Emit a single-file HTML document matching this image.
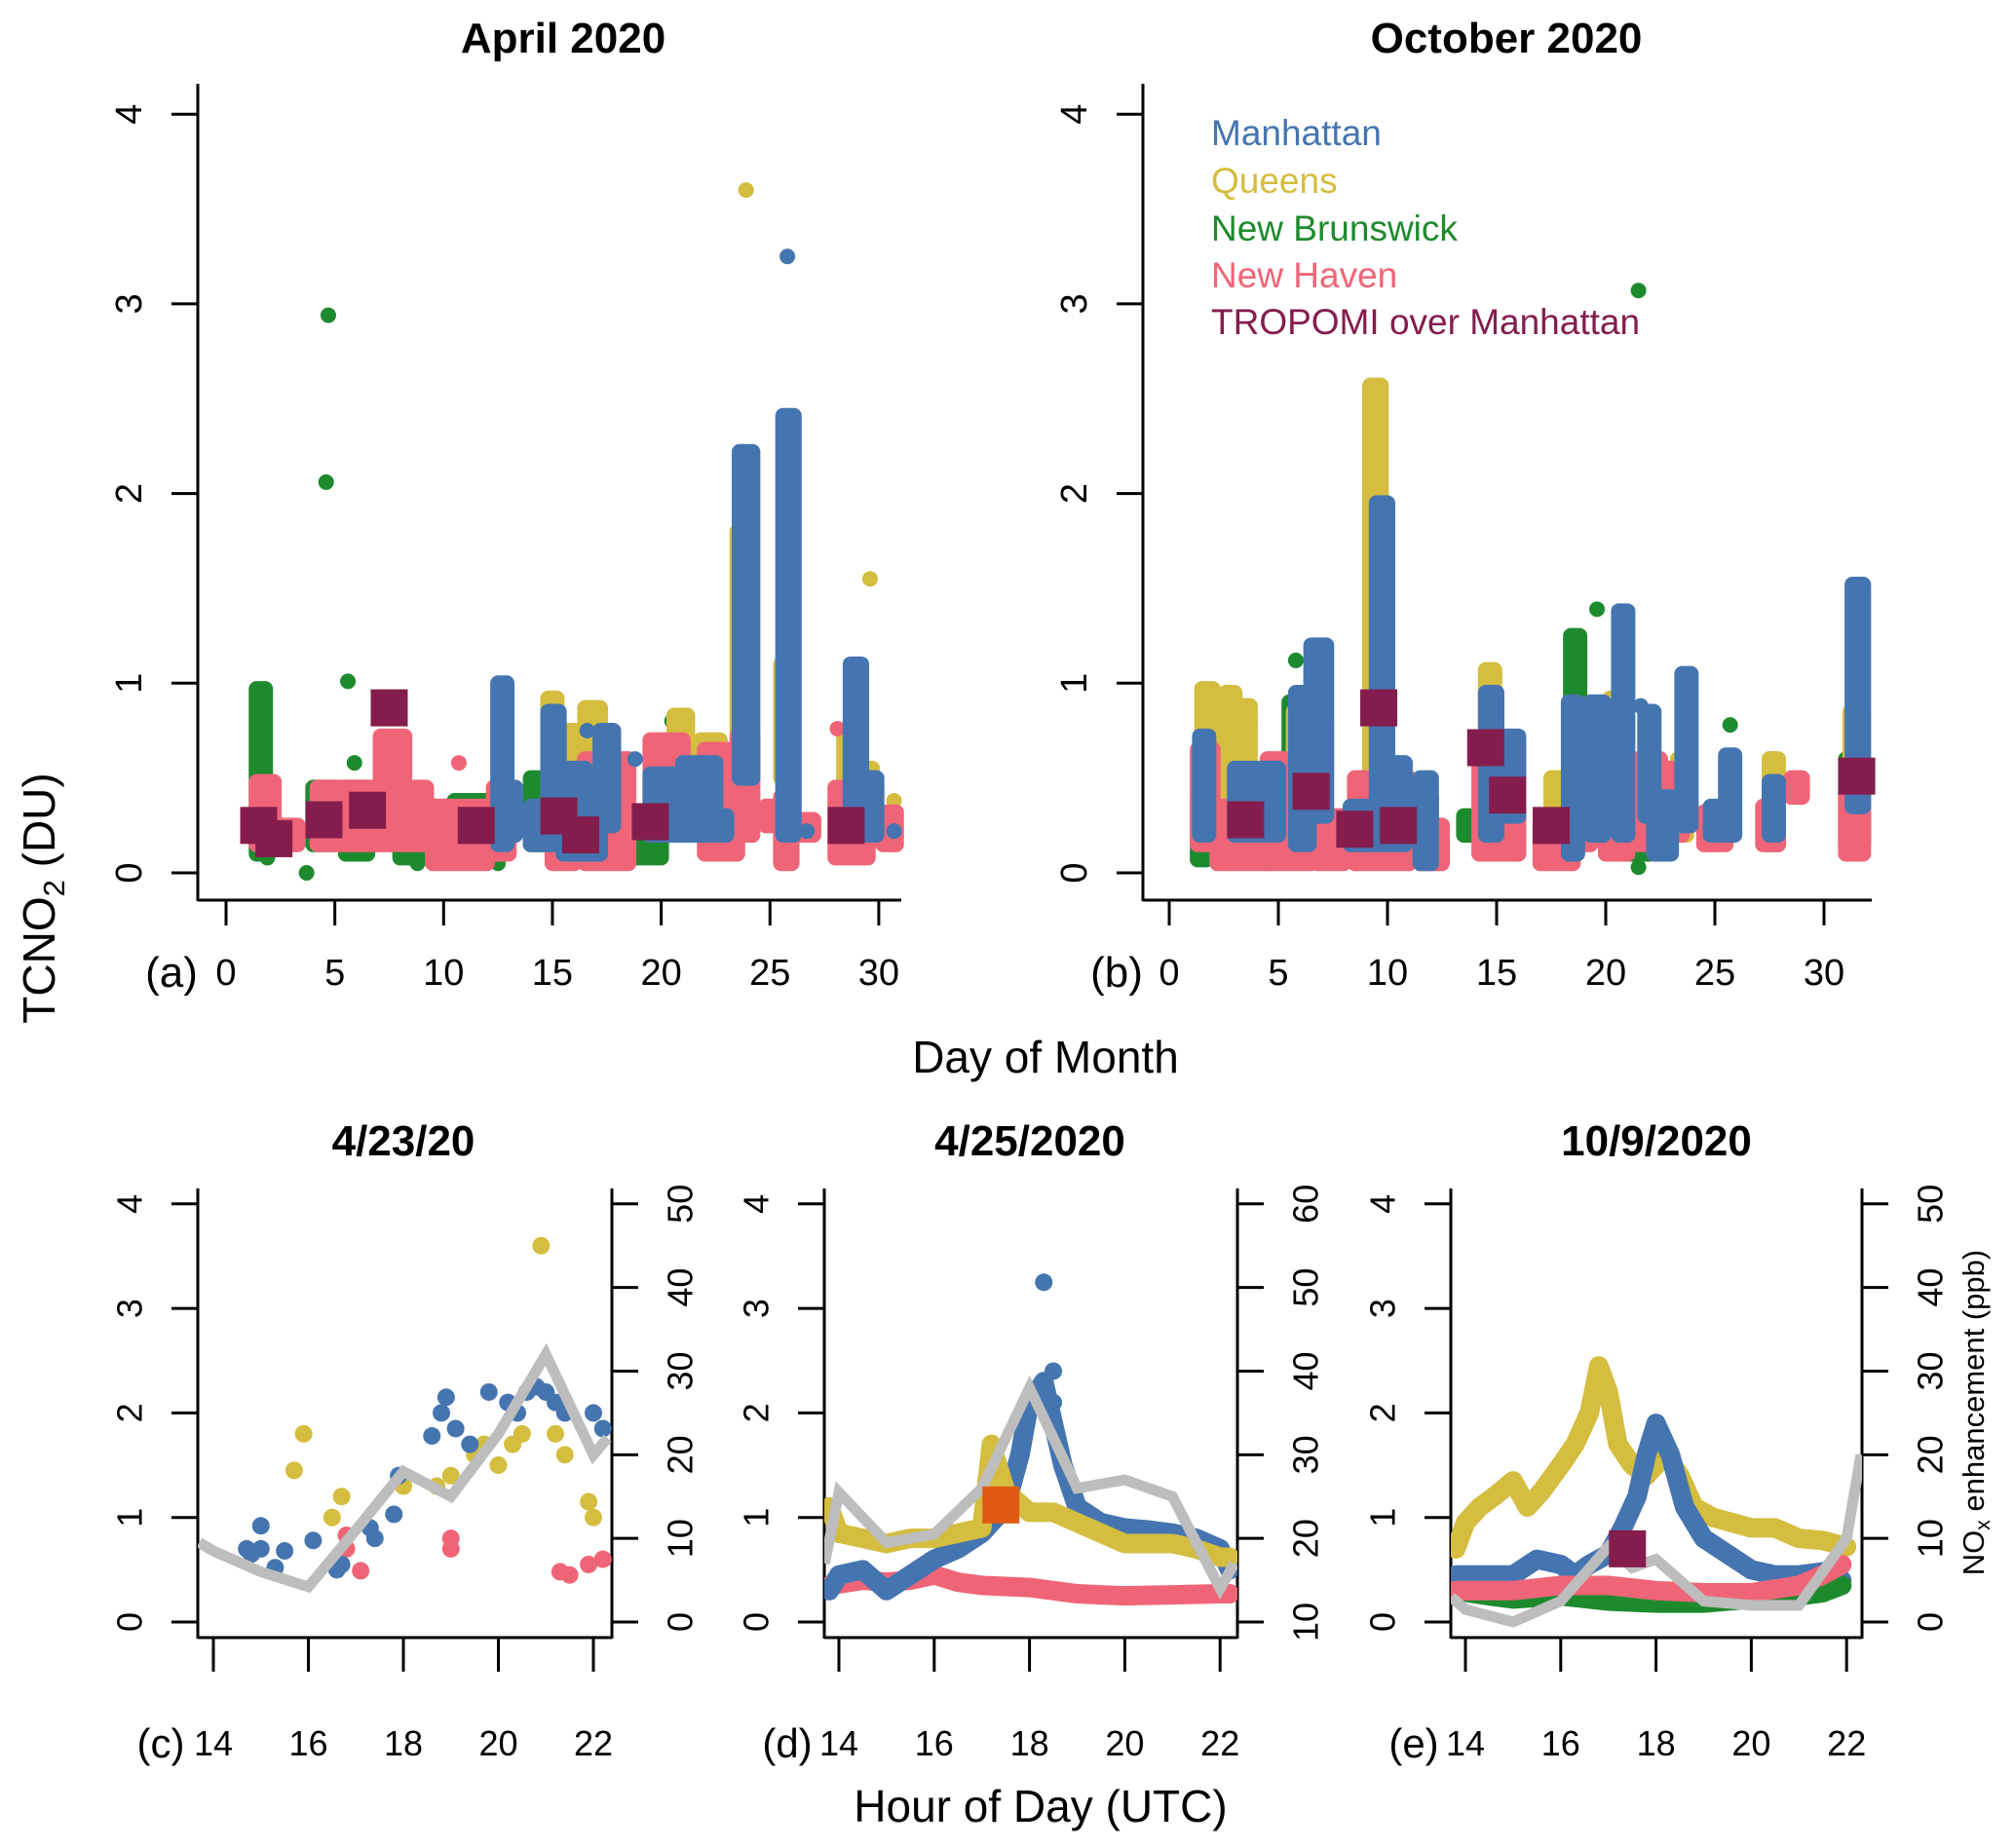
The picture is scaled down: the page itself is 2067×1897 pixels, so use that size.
<!DOCTYPE html>
<html><head><meta charset="utf-8"><style>
html,body{margin:0;padding:0;background:#fff;}
svg{display:block;font-family:"Liberation Sans",Arial,sans-serif;}
</style></head><body>
<svg id="fig" width="2067" height="1897" viewBox="0 0 2067 1897" xmlns="http://www.w3.org/2000/svg">
<g id="root"></g>
</svg>
<script>
// ---------- data ----------
const colors = {M:'#4575b0', Q:'#d4bd3f', NB:'#1e8a2e', NH:'#ef6577', T:'#841d4e'};
const yTicksDU = [0,1,2,3,4];
const xTicksDay = [0,5,10,15,20,25,30];
const xTicksHour = [14,16,18,20,22];
const rightTicksC = [0,10,20,30,40,50];
const rightTicksD = [10,20,30,40,50,60];
const rightTicksE = [0,10,20,30,40,50];
// Panel a columns [dayStart, dayEnd, lo, hi]
const aNB = [[1.4,1.8,0.1,0.97],[4,5,0.15,0.45],[5.5,6.5,0.1,0.45],[8,11,0.08,0.35],[10.5,12,0.1,0.38],[14,15.5,0.15,0.5],[16,18,0.1,0.3],[18.5,20,0.08,0.3],[20,21,0.2,0.5]];
const aNBpts = [[4.7,2.94],[4.6,2.06],[5.6,1.01],[5.9,0.58],[3.7,0.0],[20.5,0.8],[8.8,0.05],[12.5,0.05],[1.9,0.08]];
const aQ = [[14.8,15.2,0.3,0.92],[15.8,16.2,0.3,0.75],[16.5,17.2,0.3,0.87],[19.5,20.5,0.25,0.7],[20.6,21.2,0.3,0.83],[21.8,22.7,0.3,0.7],[23.5,24,0.3,1.8],[25.5,26,0.5,1.1],[28.4,29.2,0.25,0.72]];
const aQpts = [[23.9,3.6],[29.6,1.55],[29.7,0.55],[30.7,0.38]];
const aNH = [[1.4,2.2,0.15,0.48],[2.2,3.3,0.15,0.25],[4.2,7,0.15,0.45],[7.1,8.2,0.15,0.72],[8.3,9.2,0.15,0.45],[9.5,12,0.05,0.35],[12.3,13,0.1,0.45],[15,16,0.05,0.3],[16.5,18.5,0.05,0.6],[19.5,21,0.2,0.7],[22,23.5,0.1,0.65],[23.5,24.2,0.2,0.72],[24.8,25.5,0.25,0.35],[25.5,26,0.05,0.4],[26.2,27,0.2,0.28],[28,29.5,0.08,0.45],[30.2,30.8,0.15,0.32]];
const aNHpts = [[10.7,0.58],[28.1,0.76]];
const aM = [[12.5,12.9,0.15,1.0],[12.9,13.3,0.2,0.45],[14,15,0.15,0.35],[14.8,15.3,0.2,0.85],[15.5,16.5,0.1,0.55],[16.5,17.2,0.1,0.48],[17.2,17.8,0.25,0.75],[19.5,21,0.2,0.52],[21,22.5,0.2,0.58],[22.3,23,0.2,0.3],[23.6,24.2,0.5,2.22],[25.6,26.1,0.2,2.41],[28.7,29.2,0.25,1.1],[29.5,29.9,0.2,0.5]];
const aMpts = [[25.8,3.25],[18.8,0.6],[26.7,0.22],[30.7,0.22],[16.6,0.75]];
const aT = [[1.5,0.25],[2.2,0.18],[4.5,0.28],[6.5,0.33],[7.5,0.87],[11.5,0.25],[15.3,0.3],[16.3,0.2],[19.5,0.27],[28.5,0.25]];
// Panel b
const bNB = [[1.3,1.7,0.07,0.4],[2,4,0.1,0.3],[5.5,7,0.1,0.9],[8,9,0.1,0.3],[11.5,12,0.1,0.4],[13.5,14,0.2,0.3],[15,16,0.1,0.3],[18.4,18.8,0.3,1.25],[19.2,19.6,0.3,0.85],[20.5,22,0.1,0.5],[27.4,27.9,0.15,0.35],[31,31.8,0.15,0.6]];
const bNBpts = [[5.8,1.12],[9.0,0.15],[21.5,3.07],[21.5,0.03],[19.6,1.39],[25.7,0.78],[12.5,0.25],[3.7,0.78]];
const bQ = [[1.5,2,0.3,0.97],[2.6,3,0.3,0.95],[3.2,3.7,0.25,0.88],[5.7,6.2,0.3,0.85],[6.8,7.2,0.3,0.8],[9.2,9.7,0.25,2.57],[14.5,14.9,0.3,1.07],[17.5,18,0.3,0.5],[20.2,20.6,0.35,0.92],[23.3,23.7,0.2,0.6],[27.5,27.9,0.3,0.6],[31.2,31.8,0.35,0.85]];
const bQpts = [];
const bNH = [[1.3,2,0.15,0.65],[2.2,4.5,0.05,0.35],[4.5,6.5,0.05,0.6],[6.8,8,0.05,0.3],[8.5,11,0.05,0.5],[11.5,12.5,0.05,0.25],[14.2,16,0.1,0.68],[17,18.5,0.05,0.25],[18.5,19.3,0.15,0.35],[20,21,0.1,0.45],[21.5,22.5,0.15,0.6],[22.5,23.5,0.2,0.55],[24.5,25.5,0.15,0.32],[27.2,27.9,0.15,0.35],[28.5,29,0.4,0.5],[31,31.8,0.1,0.45]];
const bNHpts = [];
const bM = [[1.4,1.8,0.2,0.72],[3,5,0.2,0.55],[5.8,6.4,0.15,0.95],[6.5,7.2,0.3,1.2],[8.3,9.3,0.15,0.35],[9.5,10.0,0.15,1.95],[10.2,10.8,0.15,0.58],[11.5,12,0.05,0.5],[14.5,15,0.2,0.95],[15.3,16,0.3,0.72],[18.3,18.7,0.1,0.9],[19.3,19.9,0.2,0.9],[20.6,21,0.2,1.38],[21.8,22.2,0.3,0.85],[22.2,23,0.1,0.4],[23.5,23.9,0.25,1.05],[24.8,25.2,0.2,0.35],[25.5,25.9,0.2,0.62],[27.5,27.9,0.2,0.48],[31.3,31.8,0.35,1.52]];
const bMpts = [[21.6,0.88]];
const bT = [[3.5,0.28],[6.5,0.43],[8.5,0.23],[9.6,0.87],[10.5,0.25],[14.5,0.66],[15.5,0.41],[17.5,0.25],[31.5,0.51]];
// Panel c (hour, DU) points; gray (hour, ppb)
const cM = [[14.7,0.7],[14.8,0.65],[15,0.92],[15.0,0.7],[15.3,0.52],[15.5,0.68],[16.1,0.78],[16.6,0.5],[16.7,0.55],[17.3,0.9],[17.4,0.8],[17.8,1.03],[17.9,1.4],[18.6,1.78],[18.8,2.0],[18.9,2.15],[19.1,1.85],[19.4,1.7],[19.8,2.2],[20.2,2.1],[20.4,2.0],[20.6,2.2],[20.8,2.25],[21.0,2.2],[21.2,2.1],[21.4,2.0],[22.0,2.0],[22.2,1.85]];
const cQ = [[15.7,1.45],[15.9,1.8],[16.5,1.0],[16.7,1.2],[18.0,1.3],[18.7,1.3],[19.0,1.4],[19.5,1.6],[19.7,1.7],[20.0,1.5],[20.3,1.7],[20.5,1.8],[20.9,3.6],[21.2,1.8],[21.4,1.6],[21.9,1.15],[22.0,1.0]];
const cNH = [[16.8,0.83],[16.8,0.7],[17.1,0.49],[19.0,0.8],[19.0,0.7],[21.3,0.48],[21.5,0.45],[21.9,0.55],[22.2,0.6]];
const cNOx = [[13.7,9.5],[14,8.5],[15,6],[16,4.2],[17,11],[18,18],[19,15],[20,22.5],[21,32],[22,20],[22.3,22]];
// Panel d
const dM = [[13.8,0.3],[14,0.45],[14.5,0.5],[15,0.3],[15.5,0.45],[16,0.6],[16.5,0.7],[17,0.85],[17.5,1.1],[17.8,1.6],[18.0,2.1],[18.3,2.3],[18.7,1.5],[19,1.1],[19.5,0.95],[20,0.9],[20.5,0.88],[21,0.85],[21.5,0.8],[22,0.7],[22.2,0.5]];
const dMpts = [[18.3,3.25],[18.5,2.4],[18.5,2.1]];
const dQ = [[13.8,1.1],[14,0.85],[14.5,0.8],[15,0.75],[15.5,0.8],[16,0.8],[16.5,0.85],[17,0.9],[17.2,1.7],[17.5,1.25],[18,1.05],[18.5,1.05],[19,0.95],[19.5,0.85],[20,0.75],[20.5,0.75],[21,0.75],[21.5,0.7],[22,0.62],[22.2,0.62]];
const dNH = [[13.8,0.35],[14.5,0.4],[15,0.38],[15.5,0.4],[16,0.45],[16.5,0.38],[17,0.35],[18,0.33],[19,0.27],[20,0.25],[21,0.26],[22,0.27],[22.2,0.27]];
const dNOx = [[13.7,17],[14,25.5],[15,19.5],[16,20.5],[17,26],[18,38],[19,26],[20,27],[21,25],[22,14],[22.3,17]];
const dSq = [[17.4,1.12]];
// Panel e
const eQ = [[13.8,0.7],[14,0.95],[14.3,1.1],[14.6,1.2],[15,1.35],[15.3,1.1],[15.6,1.25],[16,1.5],[16.3,1.7],[16.6,2.0],[16.8,2.45],[17,2.2],[17.2,1.7],[17.5,1.5],[17.8,1.4],[18.2,1.6],[18.5,1.4],[18.8,1.1],[19.2,1.0],[19.6,0.95],[20,0.9],[20.5,0.9],[21,0.8],[21.5,0.78],[22,0.72]];
const eM = [[13.8,0.45],[14.3,0.45],[15,0.45],[15.5,0.6],[16,0.55],[16.3,0.45],[16.6,0.55],[17.0,0.65],[17.3,0.9],[17.6,1.2],[17.8,1.6],[18.0,1.9],[18.3,1.6],[18.6,1.1],[19,0.8],[19.5,0.65],[20,0.5],[20.5,0.45],[21,0.45],[21.5,0.48],[21.9,0.4]];
const eNH = [[13.8,0.3],[15,0.3],[16,0.35],[17,0.35],[18,0.3],[19,0.28],[20,0.28],[21,0.35],[21.5,0.45],[21.9,0.55]];
const eNB = [[13.8,0.3],[14.5,0.25],[15,0.22],[16,0.25],[17,0.2],[18,0.18],[19,0.18],[20,0.22],[21,0.25],[21.5,0.28],[21.9,0.35]];
const eNOx = [[13.7,3],[14,1.5],[15,0],[16,2.5],[17,9],[17.5,6.5],[18,7.5],[19,2.5],[20,2],[21,2],[22,10],[22.3,20]];
const eSq = [[17.4,0.7]];

// ---------- drawing ----------
const NS='http://www.w3.org/2000/svg';
const root=document.getElementById('root');
function mk(tag,attrs,parent){const e=document.createElementNS(NS,tag);for(const k in attrs)e.setAttribute(k,attrs[k]);(parent||root).appendChild(e);return e;}
function txt(s,x,y,size,opts,parent){const o=opts||{};const e=mk('text',{x:x,y:y,'font-size':size,'text-anchor':o.anchor||'middle',fill:o.fill||'#000','font-weight':o.bold?'bold':'normal'},parent);if(o.rot)e.setAttribute('transform','rotate('+o.rot+' '+x+' '+y+')');e.textContent=s;return e;}

function topPanel(cfg){
  const g=mk('g',{});
  
  
  const X=d=>cfg.x0+d*cfg.dx, Y=v=>896-v*194.7;
  const axes=mk('g',{},g);
  
  
  mk('line',{x1:cfg.left,y1:86,x2:cfg.left,y2:925,stroke:'#000','stroke-width':3},axes);
  mk('line',{x1:cfg.left,y1:924,x2:cfg.right,y2:924,stroke:'#000','stroke-width':3},axes);
  yTicksDU.forEach(v=>{mk('line',{x1:cfg.left-27,y1:Y(v),x2:cfg.left,y2:Y(v),stroke:'#000','stroke-width':3},axes);
    const t=txt(String(v),cfg.left-70,Y(v),38,{rot:-90},axes);t.setAttribute('dominant-baseline','central');
    
    });
  xTicksDay.forEach(v=>{mk('line',{x1:X(v),y1:924,x2:X(v),y2:950,stroke:'#000','stroke-width':3},axes);
    const t=txt(String(v),X(v),1011,38,{},axes);
    
    });
  const pl=txt(cfg.label,cfg.left-27,1013,44,{},g);
  
  
  const tt=txt(cfg.title,cfg.tx,54,44,{bold:true},g);
  
  
  const series=[['NB',cfg.NB,cfg.NBp],['Q',cfg.Q,cfg.Qp],['NH',cfg.NH,cfg.NHp],['M',cfg.M,cfg.Mp]];
  series.forEach(([k,cols,pts])=>{
    const sg=mk('g',{fill:colors[k]},g);
    
    
    cols.forEach(c=>{const r=mk('rect',{x:X(c[0])-8,y:Y(c[3])-8,width:X(c[1])-X(c[0])+16,height:Y(c[2])-Y(c[3])+16,rx:8},sg);
      
      });
    pts.forEach(p=>{const c=mk('circle',{cx:X(p[0]),cy:Y(p[1]),r:8},sg);
      
      });
  });
  const tg=mk('g',{fill:colors.T},g);
  
  
  cfg.T.forEach(p=>{const r=mk('rect',{x:X(p[0])-19,y:Y(p[1])-19,width:38,height:38},tg);
    
    });
}
topPanel({name:'panel-a',title:'April 2020',tx:578,label:'(a)',left:203,right:925,x0:232,dx:22.33,NB:aNB,NBp:aNBpts,Q:aQ,Qp:aQpts,NH:aNH,NHp:aNHpts,M:aM,Mp:aMpts,T:aT});
topPanel({name:'panel-b',title:'October 2020',tx:1546,label:'(b)',left:1173,right:1921,x0:1200,dx:22.4,NB:bNB,NBp:bNBpts,Q:bQ,Qp:bQpts,NH:bNH,NHp:bNHpts,M:bM,Mp:bMpts,T:bT});

// legend
const leg=mk('g',{});


[['Manhattan','M',149],['Queens','Q',198],['New Brunswick','NB',247],['New Haven','NH',295],['TROPOMI over Manhattan','T',343]].forEach(([s,k,y])=>{
  const t=txt(s,1243,y,37,{anchor:'start',fill:colors[k]},leg);
  
  
});

function botPanel(cfg){
  const g=mk('g',{});
  
  
  const X=h=>cfg.x14+(h-14)*cfg.dh, Y=v=>1665-v*107.3;
  const YR=v=>Y((v-cfg.rmin)/(cfg.rmax-cfg.rmin)*4);
  const axes=mk('g',{},g);
  
  
  mk('line',{x1:cfg.left,y1:1220,x2:cfg.left,y2:1682,stroke:'#000','stroke-width':3},axes);
  mk('line',{x1:cfg.right,y1:1220,x2:cfg.right,y2:1682,stroke:'#000','stroke-width':3},axes);
  mk('line',{x1:cfg.left,y1:1681,x2:cfg.right,y2:1681,stroke:'#000','stroke-width':3},axes);
  yTicksDU.forEach(v=>{mk('line',{x1:cfg.left-27,y1:Y(v),x2:cfg.left,y2:Y(v),stroke:'#000','stroke-width':3},axes);
    const t=txt(String(v),cfg.left-70,Y(v),36,{rot:-90},axes);t.setAttribute('dominant-baseline','central');
    
    });
  cfg.rt.forEach(v=>{mk('line',{x1:cfg.right,y1:YR(v),x2:cfg.right+27,y2:YR(v),stroke:'#000','stroke-width':3},axes);
    const t=txt(String(v),cfg.right+70,YR(v),36,{rot:-90},axes);t.setAttribute('dominant-baseline','central');
    
    });
  xTicksHour.forEach(v=>{mk('line',{x1:X(v),y1:1681,x2:X(v),y2:1716,stroke:'#000','stroke-width':3},axes);
    const t=txt(String(v),X(v),1802,36,{},axes);
    
    });
  const pl=txt(cfg.label,cfg.left-38,1804,42,{},g);
  
  
  const tt=txt(cfg.title,cfg.tx,1186,44,{bold:true},g);
  
  
  const clipId=cfg.name+'-clip';
  const cp=mk('clipPath',{id:clipId},g);mk('rect',{x:cfg.left,y:1200,width:cfg.right-cfg.left,height:480},cp);
  const data=mk('g',{'clip-path':'url(#'+clipId+')'},g);
  (cfg.bands||[]).forEach(([k,arr])=>{
    const p=mk('polyline',{points:arr.map(q=>X(q[0])+','+Y(q[1])).join(' '),fill:'none',stroke:colors[k],'stroke-width':20,'stroke-linecap':'round','stroke-linejoin':'round'},data);
    
    
  });
  (cfg.pts||[]).forEach(([k,arr])=>{
    const sg=mk('g',{fill:colors[k]},data);
    
    
    arr.forEach(q=>{const c=mk('circle',{cx:X(q[0]),cy:Y(q[1]),r:9},sg);
      
      });
  });
  const gl=mk('polyline',{points:cfg.nox.map(q=>X(q[0])+','+YR(q[1])).join(' '),fill:'none',stroke:'#bdbdbd','stroke-width':11,'stroke-linejoin':'miter'},data);
  
  
  (cfg.sq||[]).forEach(q=>{const r=mk('rect',{x:X(q[0])-19,y:Y(q[1])-19,width:38,height:38,fill:cfg.sqc},data);
    
    });
}
botPanel({name:'panel-c',title:'4/23/20',tx:414,label:'(c)',left:203,right:628,x14:219,dh:48.75,rmin:0,rmax:50,rt:rightTicksC,
  pts:[['NH',cNH],['Q',cQ],['M',cM]],nox:cNOx});
botPanel({name:'panel-d',title:'4/25/2020',tx:1057,label:'(d)',left:846,right:1270,x14:861,dh:48.9,rmin:10,rmax:60,rt:rightTicksD,
  bands:[['NH',dNH],['M',dM],['Q',dQ]],pts:[['M',dMpts]],nox:dNOx,sq:dSq,sqc:'#e05a12'});
botPanel({name:'panel-e',title:'10/9/2020',tx:1700,label:'(e)',left:1489,right:1911,x14:1504,dh:48.9,rmin:0,rmax:50,rt:rightTicksE,
  bands:[['Q',eQ],['M',eM],['NB',eNB],['NH',eNH]],nox:eNOx,sq:eSq,sqc:colors.T});

// axis titles
const yl=mk('text',{x:56,y:922,'font-size':46,'text-anchor':'middle',transform:'rotate(-90 56 922)'});


yl.innerHTML='TCNO<tspan font-size="31" dy="10">2</tspan><tspan dy="-10"> (DU)</tspan>';
let t=txt('Day of Month',1073,1101,46,{});


t=txt('Hour of Day (UTC)',1068,1870,46,{});


const rl=mk('text',{x:2036,y:1450,'font-size':31,'text-anchor':'middle',transform:'rotate(-90 2036 1450)'});


rl.innerHTML='NO<tspan font-size="21" dy="6">x</tspan><tspan dy="-6"> enhancement (ppb)</tspan>';
</script>
</body></html>
